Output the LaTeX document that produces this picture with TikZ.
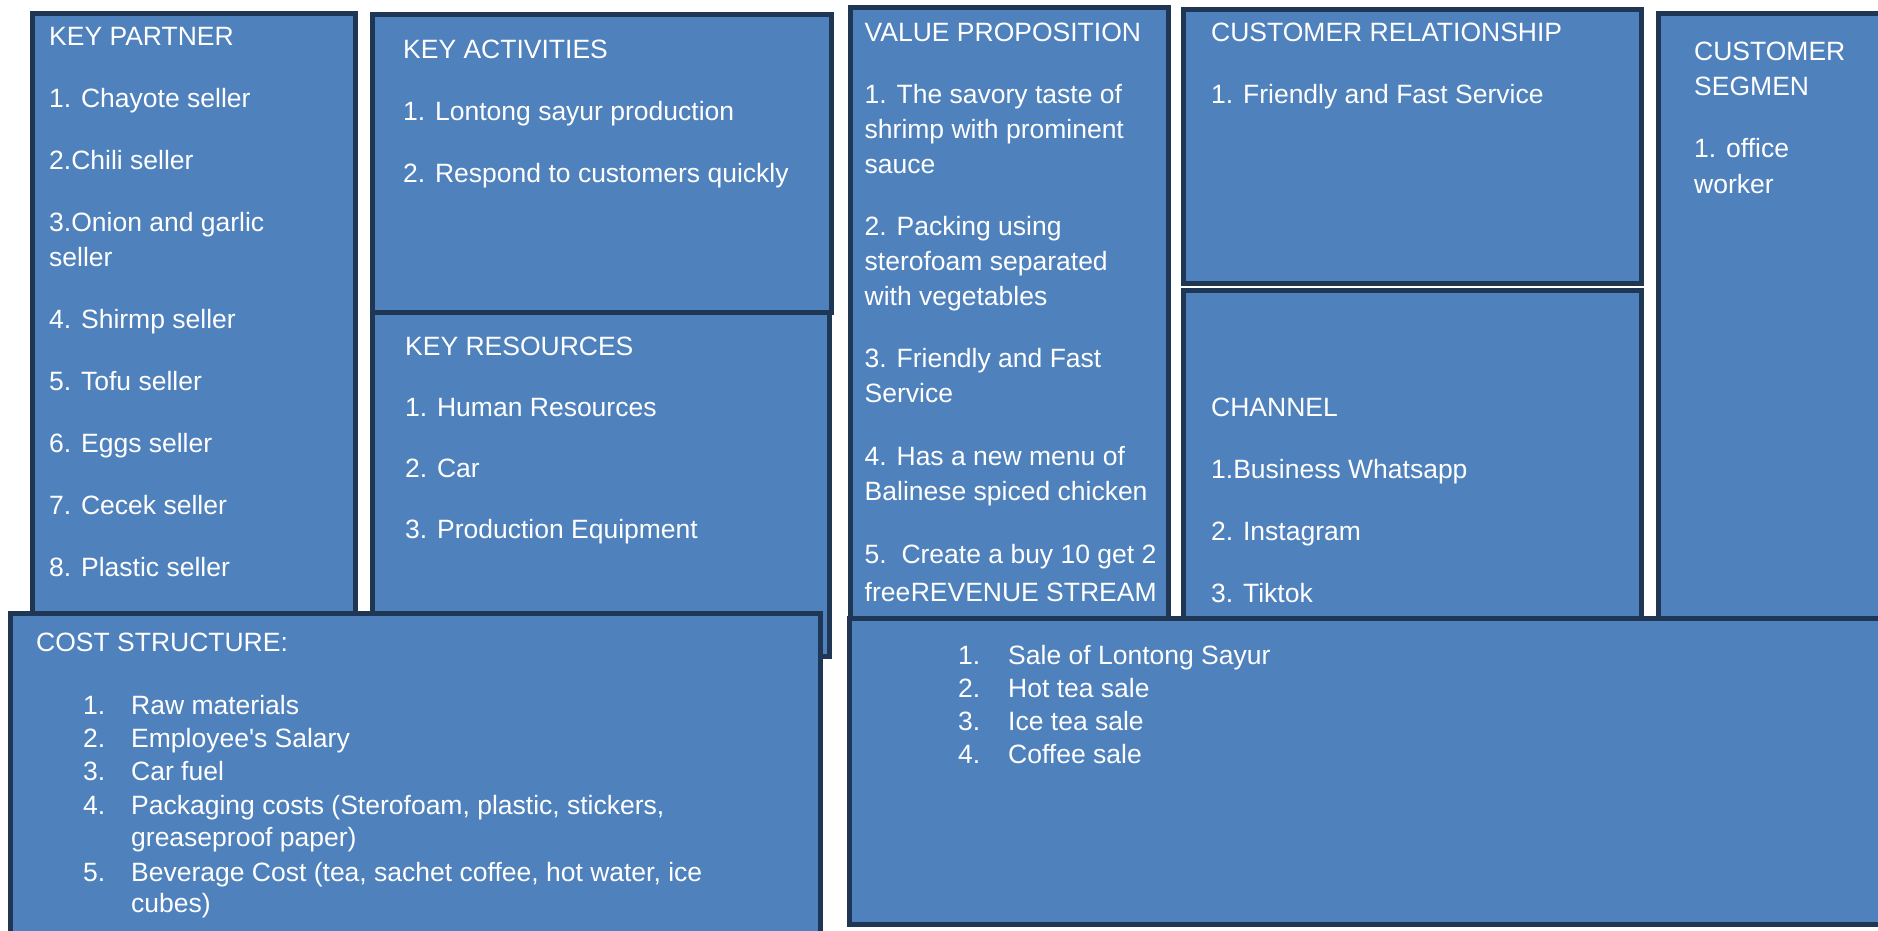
\documentclass[tikz,border=0pt]{standalone}
\usepackage{fontspec}
\setmainfont{Liberation Sans}[Ligatures=TeXOff]
\definecolor{panelfill}{HTML}{4F81BD}
\definecolor{panelline}{HTML}{1F3654}
\tikzset{
  panel/.style={draw=panelline, fill=panelfill, line width=5pt, line join=miter},
  txt/.style={text=white, inner sep=0pt, anchor=base west,
              font=\fontsize{26.5}{35}\selectfont},
}
\begin{document}
\begin{tikzpicture}[x=1pt,y=-1pt]
\useasboundingbox (0,0) rectangle (1878,930);
\clip (0,0) rectangle (1878,930);
\fill[white] (0,0) rectangle (1878,930);

% ---- top row of the canvas
\draw[panel] (32.5,13)    rectangle (355.5,640);    % key partner
\draw[panel] (372,14)     rectangle (831.5,312.5);  % key activities
\draw[panel] (372,312.5)  rectangle (829.5,656.5);  % key resources
\draw[panel] (850.5,7.5)  rectangle (1168.5,640);   % value proposition
\draw[panel] (1183.5,9.5) rectangle (1641.5,283.5); % customer relationship
\draw[panel] (1183.5,290.5) rectangle (1641.5,640); % channel
\draw[panel] (1658.5,13.5) rectangle (1895,640);    % customer segment
% ---- bottom row
\draw[panel] (10.5,613.5) rectangle (820.5,945);    % cost structure
\draw[panel] (849.5,618.5) rectangle (1895,924.5);  % revenue stream

% ---- key partner
\foreach \yy/\tx [count=\i] in {45/KEY PARTNER, 107/1. Chayote seller,
    169/2.Chili seller, 231/3.Onion and garlic, 266/seller,
    328/4. Shirmp seller, 390/5. Tofu seller, 452/6. Eggs seller,
    514/7. Cecek seller, 576/8. Plastic seller}
  \node[txt] (kp\i) at (49,\yy) {\tx};

% ---- key activities
\foreach \yy/\tx [count=\i] in {58.5/KEY ACTIVITIES,
    120.5/1. Lontong sayur production,
    182.5/2. Respond to customers quickly}
  \node[txt] (ka\i) at (403,\yy) {\tx};

% ---- key resources
\foreach \yy/\tx [count=\i] in {355.5/KEY RESOURCES,
    416.5/1. Human Resources, 477.5/2. Car,
    538.5/3. Production Equipment}
  \node[txt] (kr\i) at (405,\yy) {\tx};

% ---- value proposition
\foreach \yy/\tx [count=\i] in {41.5/VALUE PROPOSITION,
    103.5/1. The savory taste of, 138.5/shrimp with prominent, 173.5/sauce,
    235.5/2. Packing using, 270.5/sterofoam separated, 305.5/with vegetables,
    367.5/3. Friendly and Fast, 402.5/Service,
    465/4. Has a new menu of, 500/Balinese spiced chicken,
    563/{5.\ \ Create a buy 10 get 2}, 601/free}
  \node[txt] (vp\i) at (864.5,\yy) {\tx};

% ---- customer relationship
\node[txt] (cr1) at (1211,41.5)  {CUSTOMER RELATIONSHIP};
\node[txt] (cr2) at (1211,103.5) {1. Friendly and Fast Service};

% ---- channel
\foreach \yy/\tx [count=\i] in {416.5/CHANNEL, 478.5/1.Business Whatsapp,
    540.5/2. Instagram, 602/3. Tiktok}
  \node[txt] (ch\i) at (1211,\yy) {\tx};

% ---- customer segment
\foreach \yy/\tx [count=\i] in {60.5/CUSTOMER, 95.5/SEGMEN,
    157.5/1. office, 193.5/worker}
  \node[txt] (cs\i) at (1694,\yy) {\tx};

% ---- cost structure
\node[txt] (costtitle) at (36,651.5) {COST STRUCTURE:};
\foreach \yy/\nn [count=\i] in {714/1., 747/2., 780/3., 814/4., 881/5.}
  \node[txt] (costnum\i) at (83,\yy) {\nn};
\foreach \yy/\tx [count=\i] in {714/Raw materials, 747/Employee's Salary,
    780/Car fuel, 814/{Packaging costs (Sterofoam, plastic, stickers,},
    846/greaseproof paper), 881/{Beverage Cost (tea, sachet coffee, hot water, ice},
    912/cubes)}
  \node[txt] (cost\i) at (131,\yy) {\tx};

% ---- revenue stream
\node[txt] (revtitle) at (vp13.base east) {REVENUE STREAM};
\foreach \yy/\nn [count=\i] in {664/1., 697/2., 730.5/3., 763/4.}
  \node[txt] (revnum\i) at (958,\yy) {\nn};
\foreach \yy/\tx [count=\i] in {664/Sale of Lontong Sayur, 697/Hot tea sale,
    730.5/Ice tea sale, 763/Coffee sale}
  \node[txt] (rev\i) at (1008,\yy) {\tx};
\end{tikzpicture}
\end{document}
